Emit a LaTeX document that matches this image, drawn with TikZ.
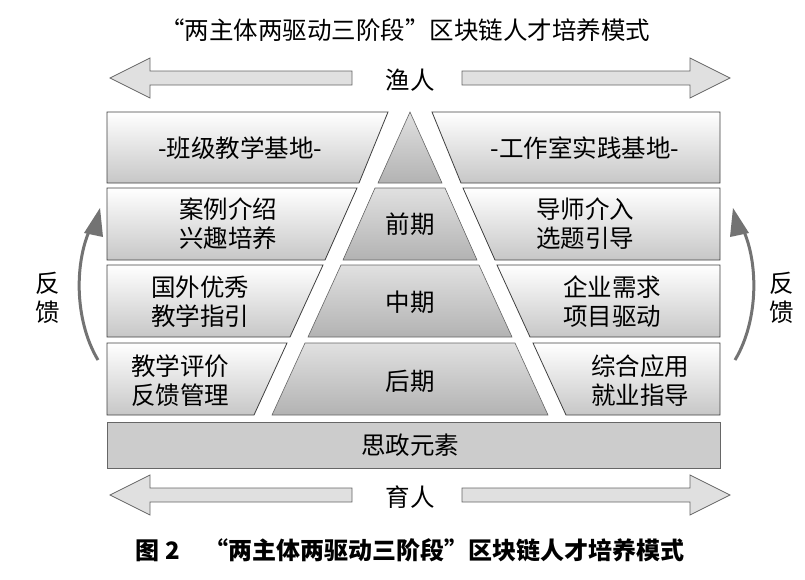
\documentclass[tikz,border=0pt]{standalone}
\usepackage{fontspec}
\newfontfamily\cjk{Noto Sans CJK SC}
\begin{document}
\begin{tikzpicture}[x=1pt,y=-1pt,
  panel/.style={draw=black!75,line width=0.8pt,top color=white,bottom color=black!22},
  pyr/.style={draw=black!60,line width=0.6pt,top color=black!12,bottom color=black!30},
  lbl/.style={font=\cjk\fontsize{24.5}{29}\selectfont,align=center},
  bigarrow/.style={draw=black!60,line width=0.8pt,fill=black!12},
  fb/.style={draw=black!55,line width=3pt}]
\useasboundingbox (0,0) rectangle (805,579);
\node[lbl] (title) at (405,30) {“两主体两驱动三阶段”区块链人才培养模式};
% top arrows
\node[lbl] (yu) at (410,80) {渔人};
\draw[bigarrow] (110,78) -- (150,58) -- (150,71) -- (352,71) -- (352,85) -- (150,85) -- (150,98) -- cycle;
\draw[bigarrow] (730,78) -- (690,58) -- (690,71) -- (462,71) -- (462,85) -- (690,85) -- (690,98) -- cycle;
% pyramid
\path[pyr] (410,112) -- (442,183) -- (378,183) -- cycle;
\path[pyr] (375,188) -- (445,188) -- (477,260) -- (343,260) -- cycle;
\path[pyr] (341,265) -- (479,265) -- (512,337) -- (308,337) -- cycle;
\path[pyr] (305,343) -- (515,343) -- (548,415) -- (272,415) -- cycle;
\node[lbl] (p1) at (410,224) {前期};
\node[lbl] (p2) at (410,302) {中期};
\node[lbl] (p3) at (410,381) {后期};
% left panels
\path[panel] (107,112) -- (388,112) -- (359,183) -- (107,183) -- cycle;
\path[panel] (107,188) -- (357,188) -- (325,260) -- (107,260) -- cycle;
\path[panel] (107,265) -- (323,265) -- (290,337) -- (107,337) -- cycle;
\path[panel] (107,343) -- (287,343) -- (254,415) -- (107,415) -- cycle;
\node[lbl] (l1) at (240,148) {-班级教学基地-};
\node[lbl] (l2) at (228,224) {案例介绍\\兴趣培养};
\node[lbl] (l3) at (200,302) {国外优秀\\教学指引};
\node[lbl] (l4) at (180,381) {教学评价\\反馈管理};
% right panels
\path[panel] (432,112) -- (720,112) -- (720,183) -- (461,183) -- cycle;
\path[panel] (463,188) -- (720,188) -- (720,260) -- (495,260) -- cycle;
\path[panel] (497,265) -- (720,265) -- (720,337) -- (530,337) -- cycle;
\path[panel] (533,343) -- (720,343) -- (720,415) -- (566,415) -- cycle;
\node[lbl] (r1) at (585,148) {-工作室实践基地-};
\node[lbl] (r2) at (585,224) {导师介入\\选题引导};
\node[lbl] (r3) at (612,302) {企业需求\\项目驱动};
\node[lbl] (r4) at (640,381) {综合应用\\就业指导};
% bottom bar
\path[draw=black!60,fill=black!20] (107,422) rectangle (720,468);
\node[lbl] (sz) at (410,445) {思政元素};
% bottom arrows
\node[lbl] (yr) at (410,497) {育人};
\draw[bigarrow] (110,495) -- (150,475) -- (150,488) -- (352,488) -- (352,502) -- (150,502) -- (150,515) -- cycle;
\draw[bigarrow] (730,495) -- (690,475) -- (690,488) -- (462,488) -- (462,502) -- (690,502) -- (690,515) -- cycle;
% feedback
\node[lbl] (fl) at (48,298) {反\\馈};
\node[lbl] (fr) at (782,298) {反\\馈};
\coordinate (fls) at (98,360); \coordinate (fle) at (92,225);
\draw[fb] (fls) .. controls (74,320) and (74,260) .. (fle);
\fill[black!55] (84,233) -- (100,208) -- (103,237) -- cycle;
\coordinate (frs) at (735,360); \coordinate (fre) at (741,225);
\draw[fb] (frs) .. controls (759,320) and (759,260) .. (fre);
\fill[black!55] (749,233) -- (733,208) -- (730,237) -- cycle;
\node[lbl,font=\cjk\bfseries\fontsize{24}{29}\selectfont] (cap) at (410,550) {图 2\quad “两主体两驱动三阶段”区块链人才培养模式};
\end{tikzpicture}
\end{document}
